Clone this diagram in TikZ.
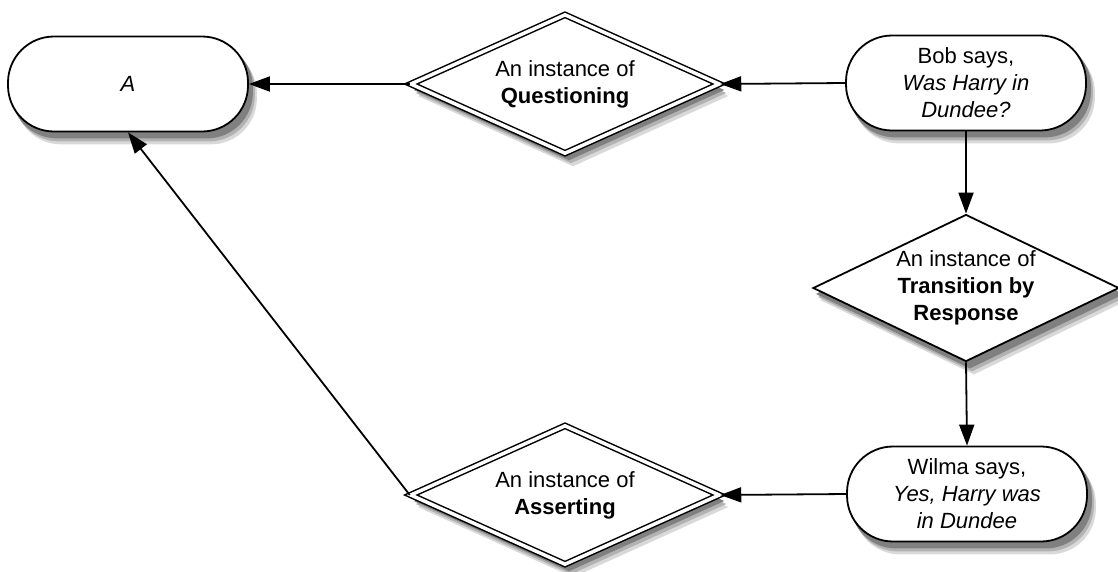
\documentclass[tikz,border=0pt]{standalone}
\usepackage{fontspec}
\setmainfont{Liberation Sans}
\usetikzlibrary{shapes.geometric,arrows.meta,backgrounds}

\tikzset{
  speechbox/.style={draw, line width=1.8pt, fill=white, rectangle, rounded corners=46pt,
    minimum width=240pt, minimum height=95pt, align=center},
  movebox/.style={draw, line width=1.8pt, fill=white, diamond, inner sep=0pt, align=center},
  dblmove/.style={movebox, double, double distance=3.5pt, line width=1.5pt},
  link/.style={line width=1.8pt, -{Triangle[length=21pt,width=15pt]}}
}

% soft shadows, drawn as layered grey copies
\newcommand{\boxshadow}[1]{%
  \foreach \dx/\dy/\g in {8/12/15, 6/9/30, 4/6/50}
    \fill[black!\g, rounded corners=46pt] ([shift={(\dx,\dy)}]#1.south west) rectangle ([shift={(\dx,\dy)}]#1.north east);}
\newcommand{\diamondshadow}[1]{%
  \foreach \dx/\dy/\g in {8/12/15, 6/9/30, 4/6/50}
    \fill[black!\g] ([shift={(\dx,\dy)}]#1.north) -- ([shift={(\dx,\dy)}]#1.east)
      -- ([shift={(\dx,\dy)}]#1.south) -- ([shift={(\dx,\dy)}]#1.west) -- cycle;}

\begin{document}
\begin{tikzpicture}[x=1pt, y=-1pt, font=\fontsize{22}{27}\selectfont]
% Fix the page size
\useasboundingbox (0,0) rectangle (1118,571);

% Top row
\node[speechbox] (A) at (128,84) {\textit{A}};
\node[dblmove, aspect=2.2, minimum width=309pt, minimum height=139pt] (quest) at (565,84) {An instance of\\\textbf{Questioning}};
\node[speechbox] (bob) at (966,83) {Bob says,\\\textit{Was Harry in}\\\textit{Dundee?}};

% Middle
\node[movebox, aspect=2.08, minimum width=306pt, minimum height=147pt] (trans) at (966,288) {An instance of\\\textbf{Transition by}\\\textbf{Response}};

% Bottom row
\node[dblmove, aspect=2.2, minimum width=309pt, minimum height=139pt] (assert) at (565,495) {An instance of\\\textbf{Asserting}};
\node[speechbox] (wilma) at (967,494) {Wilma says,\\\textit{Yes, Harry was}\\\textit{in Dundee}};

% Shadows behind the shapes
\begin{scope}[on background layer]
\boxshadow{A}
\boxshadow{bob}
\boxshadow{wilma}
\diamondshadow{quest}
\diamondshadow{trans}
\diamondshadow{assert}
\end{scope}

% Connectors
\draw[link] (bob.west) -- (quest.east);
\draw[link] (quest.west) -- (A.east);
\draw[link] (bob.south) -- (trans.north);
\draw[link] (trans.south) -- (wilma.north);
\draw[link] (wilma.west) -- (assert.east);
\draw[link] (assert.west) -- (A.south);
\end{tikzpicture}
\end{document}
